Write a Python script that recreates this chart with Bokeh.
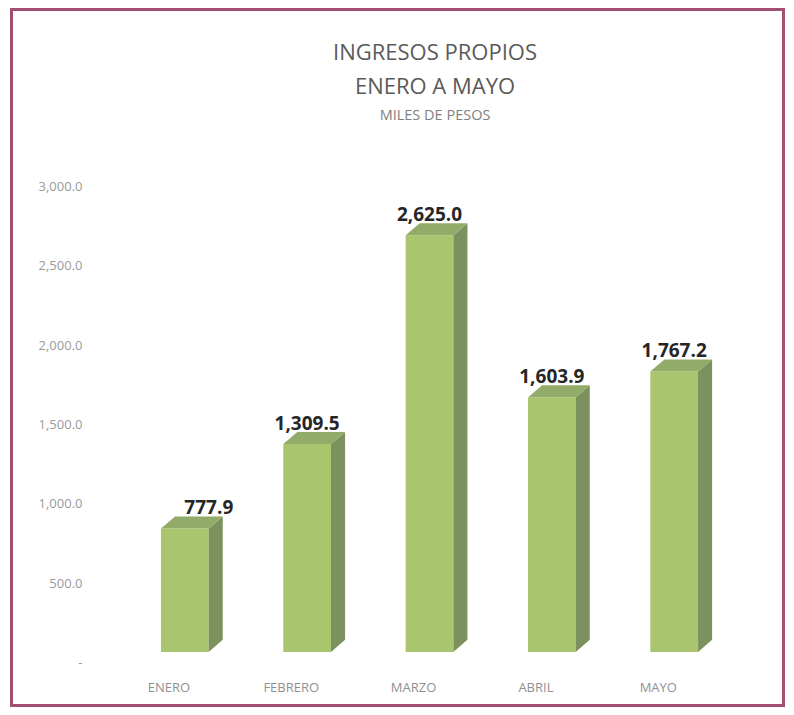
from bokeh.plotting import figure
from bokeh.models import (Range1d, LinearAxis, FixedTicker, Title,
                          ColumnDataSource, NumeralTickFormatter)
from bokeh.core.properties import value
from bokeh.embed import file_html
from bokeh.resources import INLINE

# ---- data ----
months = ["ENERO", "FEBRERO", "MARZO", "ABRIL", "MAYO"]
ingresos = [777.9, 1309.5, 2625.0, 1603.9, 1767.2]
y_ticks = [0, 500, 1000, 1500, 2000, 2500, 3000]
title_lines = ["INGRESOS PROPIOS", "ENERO A MAYO", "MILES DE PESOS"]

# ---- geometry / style ----
W, H = 775, 699
FRONT = "#a9c56e"
SIDE = "#7c925e"
TOP = "#93ab68"
shift = 0.13      # bar offset from category tick (3D perspective)
hw = 0.195        # half width of front face
dx = 0.115        # depth in x (data units)
dy = 76.0         # depth in y (data units)
label_nudge = [24, 0, 0, 0, 0]   # px horizontal nudge of value labels

p = figure(width=W, height=H, output_backend="svg", toolbar_location=None,
           x_range=Range1d(-0.6, 4.95), y_range=Range1d(-117, 3065),
           min_border_left=82, min_border_right=14, min_border_top=154,
           min_border_bottom=40, background_fill_color="white",
           border_fill_color="white", outline_line_color=None)
p.styles = {"border": "3px solid #a24f72", "margin-left": "10px",
            "margin-top": "8px"}
p.title.visible = False
p.xaxis.visible = False
p.yaxis.visible = False
p.xgrid.visible = False
p.ygrid.visible = False

# axis with ticks aligned to the chart's back wall
p.extra_y_ranges = {"wall": Range1d(-50, 3132)}
yax = LinearAxis(y_range_name="wall", ticker=FixedTicker(ticks=y_ticks),
                 formatter=NumeralTickFormatter(format="0,0.0"))
yax.major_label_overrides = {0: "-"}
yax.axis_line_color = None
yax.major_tick_line_color = None
yax.minor_tick_line_color = None
yax.major_tick_out = 0
yax.major_tick_in = 0
yax.major_label_standoff = 13
yax.major_label_text_font = "Open Sans"
yax.major_label_text_font_size = "13px"
yax.major_label_text_color = "#9a9a9a"
p.add_layout(yax, "left")

xax = LinearAxis(ticker=FixedTicker(ticks=list(range(len(months)))),
                 major_label_overrides={i: m for i, m in enumerate(months)})
xax.axis_line_color = None
xax.major_tick_line_color = None
xax.minor_tick_line_color = None
xax.major_tick_out = 0
xax.major_tick_in = 0
xax.major_label_standoff = 7
xax.major_label_text_font = "Open Sans"
xax.major_label_text_font_size = "13px"
xax.major_label_text_color = "#8f8f8f"
p.add_layout(xax, "below")

# units subtitle carried by an unticked axis above the plot area
unit_ax = LinearAxis(ticker=FixedTicker(ticks=[]), axis_label=title_lines[2])
unit_ax.axis_line_color = None
unit_ax.major_tick_line_color = None
unit_ax.minor_tick_line_color = None
unit_ax.major_tick_out = 0
unit_ax.major_tick_in = 0
unit_ax.axis_label_standoff = 42
unit_ax.axis_label_text_font = "Open Sans"
unit_ax.axis_label_text_font_size = "14.5px"
unit_ax.axis_label_text_font_style = "normal"
unit_ax.axis_label_text_color = "#808080"
p.add_layout(unit_ax, "above")

# ---- 3D bars ----
xc = [i + shift for i in range(len(months))]
src = ColumnDataSource(dict(
    left=[x - hw for x in xc], right=[x + hw for x in xc],
    bottom=[0] * len(xc), top=ingresos))
p.quad(left="left", right="right", bottom="bottom", top="top", source=src,
       fill_color=FRONT, line_color=None)

side_xs = [[x + hw, x + hw + dx, x + hw + dx, x + hw] for x in xc]
side_ys = [[0, dy, v + dy, v] for v in ingresos]
p.patches(side_xs, side_ys, fill_color=SIDE, line_color=None)

top_xs = [[x - hw, x - hw + dx, x + hw + dx, x + hw] for x in xc]
top_ys = [[v, v + dy, v + dy, v] for v in ingresos]
p.patches(top_xs, top_ys, fill_color=TOP, line_color=None)

lab = ColumnDataSource(dict(x=xc, y=[v + dy for v in ingresos],
                            t=[f"{v:,.1f}" for v in ingresos],
                            xo=label_nudge))
p.text(x="x", y="y", text="t", x_offset="xo", y_offset=-2, source=lab,
       text_align="center", text_baseline="bottom",
       text_font=value("Open Sans"), text_font_style="bold",
       text_font_size="19px", text_color="#262626")

# ---- titles (added nearest-to-plot first) ----
for txt, so in [(title_lines[1], 4), (title_lines[0], 0)]:
    p.add_layout(Title(text=txt, align="center", text_font="Open Sans",
                       text_font_size="22px", text_font_style="normal",
                       text_color="#5a5a5a", standoff=so), "above")

open("out.html", "w").write(file_html(p, INLINE))
